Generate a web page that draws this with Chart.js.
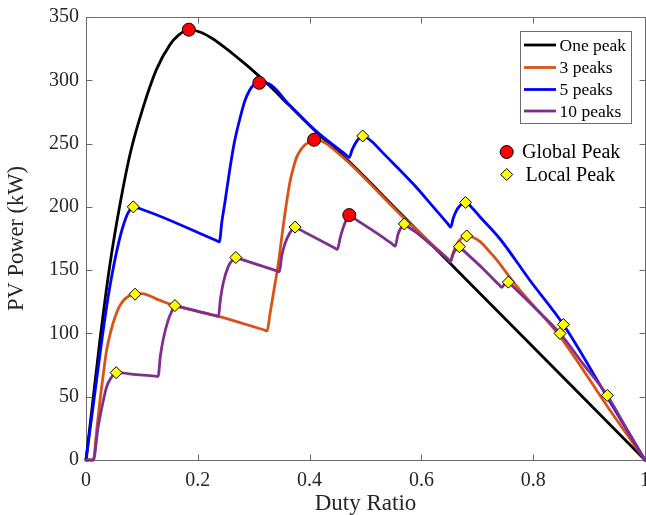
<!DOCTYPE html>
<html><head><meta charset="utf-8">
<script src="https://cdn.jsdelivr.net/npm/chart.js@4.4.1/dist/chart.umd.min.js"></script>
<style>html,body{margin:0;padding:0;background:#fff;}#wrap{width:646px;height:515px;position:relative;}</style>
</head><body><div id="wrap"><canvas id="c"></canvas></div>
<script>
// ---- data ----
const seriesLabels = ['One peak', '3 peaks', '5 peaks', '10 peaks'];
const markerLabels = ['Global Peak', 'Local Peak'];
const xTickValues = [0, 0.2, 0.4, 0.6, 0.8, 1];
const yTickValues = [0, 50, 100, 150, 200, 250, 300, 350];
const xTitle = 'Duty Ratio';
const yTitle = 'PV Power (kW)';

const onePeakDuty  = [0, 0.01, 0.025, 0.042, 0.06, 0.079, 0.1025, 0.1265, 0.15, 0.165, 0.184, 0.205, 0.226, 0.248, 0.268, 0.29, 0.325, 0.364, 0.41, 0.47, 0.56, 0.65, 0.74, 1];
const onePeakPower = [0, 38, 95, 152, 200, 242, 279, 309, 328, 335.5, 340, 338, 333, 326, 319, 311, 297, 280, 260, 236, 196, 156, 116, 0];

const threePeakDuty  = [0, 0.013, 0.019, 0.025, 0.031, 0.037, 0.044, 0.052, 0.059, 0.067, 0.077, 0.0877, 0.1, 0.13, 0.159, 0.2, 0.237, 0.2755, 0.319, 0.324, 0.329, 0.335, 0.344, 0.352, 0.359, 0.365, 0.371, 0.377, 0.384, 0.392, 0.4, 0.408, 0.418, 0.43, 0.44, 0.47, 0.56, 0.615, 0.647, 0.652, 0.657, 0.663, 0.669, 0.675, 0.681, 0.692, 0.705, 0.72, 0.735, 0.77, 0.848, 0.937, 1];
const threePeakPower = [0, 0, 23, 47, 68, 87, 101, 113, 120.5, 126, 129.5, 131, 131.5, 126.5, 122, 117.5, 113.5, 108.5, 102.7, 102, 115, 131, 155, 182, 204, 220, 231, 239.5, 245, 249, 251.5, 253, 252.5, 250, 246.5, 235, 195, 172, 159, 157, 164, 170, 174, 176, 177, 176, 172.5, 165.5, 158, 137.5, 97.5, 39.5, 0];

const fivePeakDuty  = [0, 0.012, 0.029, 0.04, 0.048, 0.055, 0.062, 0.068, 0.075, 0.0846, 0.09, 0.233, 0.2385, 0.243, 0.249, 0.256, 0.265, 0.2755, 0.2844, 0.292, 0.2993, 0.31, 0.325, 0.364, 0.41, 0.466, 0.471, 0.476, 0.481, 0.487, 0.495, 0.503, 0.513, 0.526, 0.5855, 0.6154, 0.647, 0.6524, 0.657, 0.662, 0.668, 0.679, 0.69, 0.705, 0.74, 0.794, 0.854, 0.932, 1];
const fivePeakPower = [0, 40, 97, 130, 150, 165, 178, 187, 195, 200, 199.5, 173.4, 172.4, 188, 205, 226, 250, 270, 284, 291.5, 296, 298, 297.5, 280.5, 260.5, 240.8, 239, 245, 249.5, 253.5, 256, 254.5, 251, 245, 218, 203, 186.7, 184, 191, 196.5, 200.5, 203.5, 199.5, 192, 175, 142, 107, 50, 0];

const tenPeakDuty  = [0, 0.014, 0.018, 0.021, 0.025, 0.031, 0.037, 0.045, 0.054, 0.09, 0.124, 0.129, 0.133, 0.138, 0.147, 0.153, 0.159, 0.165, 0.2, 0.232, 0.237, 0.2405, 0.2456, 0.2546, 0.261, 0.268, 0.274, 0.34, 0.346, 0.35, 0.356, 0.364, 0.374, 0.38, 0.444, 0.4496, 0.455, 0.463, 0.471, 0.477, 0.526, 0.548, 0.553, 0.558, 0.5635, 0.5694, 0.575, 0.59, 0.615, 0.647, 0.652, 0.656, 0.661, 0.668, 0.674, 0.707, 0.739, 0.7436, 0.7495, 0.7555, 0.761, 0.8, 0.848, 0.89, 0.9326, 0.966, 1];
const tenPeakPower = [0, 0, 13, 24, 34, 47, 58, 65, 69, 67.5, 66.2, 66, 82, 95, 110.5, 117, 122, 121.4, 117.5, 114, 113.5, 127, 140, 153, 157.5, 160, 159.1, 149.6, 148.7, 161, 171, 179, 184, 182.6, 167.7, 166.4, 176, 187, 193.5, 191.7, 177.5, 170.6, 169, 178, 183.5, 186.5, 184.6, 180, 171, 159, 157, 162, 166, 168.5, 166, 152.5, 138.4, 136.4, 139.5, 140.5, 138.2, 121.5, 100, 75.5, 51, 25.5, 0];

const globalPeakDuty  = [0.184, 0.31, 0.408, 0.471];
const globalPeakPower = [340, 298, 253, 193.5];

const localPeakDuty  = [0.0846, 0.0877, 0.054, 0.159, 0.268, 0.374, 0.495, 0.5694, 0.668, 0.679, 0.681, 0.7555, 0.848, 0.854, 0.9326];
const localPeakPower = [200, 131, 69, 122, 160, 184, 256, 186.5, 168.5, 203.5, 177, 140.5, 100, 107, 51];

// ---- styling ----
const SERIF = "'Liberation Serif', 'Times New Roman', serif";
const TEXT = '#262626';
const seriesColors = ['#000000', '#D95319', '#0000FF', '#7E2F8E'];

const pts = (xs, ys) => xs.map((x, i) => ({x: x, y: ys[i]}));

function lineSet(i, xs, ys, order) {
  return {
    label: seriesLabels[i], data: pts(xs, ys), showLine: true,
    borderColor: seriesColors[i], backgroundColor: seriesColors[i],
    borderWidth: 2.8, pointRadius: 0, pointHoverRadius: 0,
    cubicInterpolationMode: 'monotone',
    borderJoinStyle: 'round', borderCapStyle: 'round', clip: false, order: order
  };
}

const zeroPad = () => ({left: 0, top: 0, right: 0, bottom: 0});

const bgPlugin = {
  id: 'bg',
  beforeDraw(chart) {
    const ctx = chart.ctx; ctx.save(); ctx.fillStyle = '#fff';
    ctx.fillRect(0, 0, chart.width, chart.height); ctx.restore();
  }
};

const framePlugin = {
  id: 'frame',
  beforeDatasetsDraw(chart) {
    const {ctx, chartArea: a, scales: {x, y}} = chart;
    const L = a.left + 0.5, R = a.right + 0.5, T = a.top + 0.5, B = a.bottom + 0.5;
    ctx.save();
    ctx.strokeStyle = '#6b6b6b'; ctx.lineWidth = 1;
    ctx.strokeRect(L, T, R - L, B - T);
    ctx.beginPath();
    x.ticks.forEach(t => {
      const px = Math.round(x.getPixelForValue(t.value)) + 0.5;
      ctx.moveTo(px, B); ctx.lineTo(px, B - 6);
      ctx.moveTo(px, T); ctx.lineTo(px, T + 6);
    });
    y.ticks.forEach(t => {
      const py = Math.round(y.getPixelForValue(t.value)) + 0.5;
      ctx.moveTo(L, py); ctx.lineTo(L + 6, py);
      ctx.moveTo(R, py); ctx.lineTo(R - 6, py);
    });
    ctx.stroke();
    ctx.restore();
  }
};

const legendPlugin = {
  id: 'customLegend',
  afterDraw(chart) {
    const ctx = chart.ctx;
    ctx.save();
    ctx.fillStyle = '#fff';
    ctx.fillRect(520.5, 31.5, 111, 92);
    ctx.strokeStyle = '#6b6b6b'; ctx.lineWidth = 1;
    ctx.strokeRect(520.5, 31.5, 111, 92);
    const rows = [45, 67.5, 89.5, 111];
    ctx.font = '17.5px ' + SERIF;
    ctx.textBaseline = 'middle'; ctx.textAlign = 'left';
    seriesLabels.forEach((lab, i) => {
      ctx.strokeStyle = seriesColors[i]; ctx.lineWidth = 2.8;
      ctx.beginPath(); ctx.moveTo(524, rows[i]); ctx.lineTo(556, rows[i]); ctx.stroke();
      ctx.fillStyle = '#000';
      ctx.fillText(lab, 559.5, rows[i] + 1);
    });
    ctx.lineWidth = 1; ctx.strokeStyle = '#000';
    ctx.beginPath(); ctx.arc(506.7, 152, 6.5, 0, Math.PI * 2);
    ctx.fillStyle = '#FF0000'; ctx.fill(); ctx.stroke();
    ctx.beginPath();
    ctx.moveTo(506.7 - 6, 174.5); ctx.lineTo(506.7, 168.5); ctx.lineTo(506.7 + 6, 174.5); ctx.lineTo(506.7, 180.5); ctx.closePath();
    ctx.fillStyle = '#FFFF00'; ctx.fill(); ctx.stroke();
    ctx.font = '20px ' + SERIF; ctx.fillStyle = '#000';
    ctx.fillText(markerLabels[0], 522, 153);
    ctx.fillText(markerLabels[1], 525.5, 176);
    ctx.restore();
  }
};

new Chart(document.getElementById('c'), {
  type: 'scatter',
  data: {
    datasets: [
      {
        label: markerLabels[1], data: pts(localPeakDuty, localPeakPower), showLine: false,
        pointStyle: 'rectRot', pointRadius: 6, pointHoverRadius: 6,
        backgroundColor: '#FFFF00', borderColor: '#000', borderWidth: 1, clip: false, order: 0
      },
      {
        label: markerLabels[0], data: pts(globalPeakDuty, globalPeakPower), showLine: false,
        pointStyle: 'circle', pointRadius: 6.5, pointHoverRadius: 6.5,
        backgroundColor: '#FF0000', borderColor: '#000', borderWidth: 1, clip: false, order: 1
      },
      lineSet(3, tenPeakDuty, tenPeakPower, 2),
      lineSet(2, fivePeakDuty, fivePeakPower, 3),
      lineSet(1, threePeakDuty, threePeakPower, 4),
      lineSet(0, onePeakDuty, onePeakPower, 5)
    ]
  },
  options: {
    responsive: true, maintainAspectRatio: false, animation: false,
    layout: {autoPadding: false, padding: {top: 17, right: 1, left: 0, bottom: 0}},
    plugins: {legend: {display: false}, tooltip: {enabled: false}},
    events: [],
    scales: {
      x: {
        type: 'linear', min: 0, max: 1,
        afterBuildTicks: s => { s.ticks = xTickValues.map(v => ({value: v})); },
        afterFit: s => { s.height = 55; s.paddingLeft = 0; s.paddingRight = 0; s.paddingTop = 0; s.paddingBottom = 0; s.getPadding = zeroPad; },
        ticks: {callback: v => String(v), font: {family: SERIF, size: 20}, color: TEXT, padding: 9, maxRotation: 0, autoSkip: false},
        grid: {display: false, drawTicks: false},
        border: {display: false},
        title: {display: true, text: xTitle, font: {family: SERIF, size: 23}, color: TEXT, padding: {top: 0, bottom: -3}}
      },
      y: {
        type: 'linear', min: 0, max: 350,
        afterBuildTicks: s => { s.ticks = yTickValues.map(v => ({value: v})); },
        afterFit: s => { s.width = 86; s.paddingLeft = 0; s.paddingRight = 0; s.paddingTop = 0; s.paddingBottom = 0; s.getPadding = zeroPad; },
        ticks: {callback: v => String(v), font: {family: SERIF, size: 20}, color: TEXT, padding: 7, autoSkip: false},
        grid: {display: false, drawTicks: false},
        border: {display: false},
        title: {display: true, text: yTitle, font: {family: SERIF, size: 22.5}, color: TEXT, padding: {top: 4, bottom: 0}}
      }
    }
  },
  plugins: [bgPlugin, framePlugin, legendPlugin]
});
</script></body></html>
